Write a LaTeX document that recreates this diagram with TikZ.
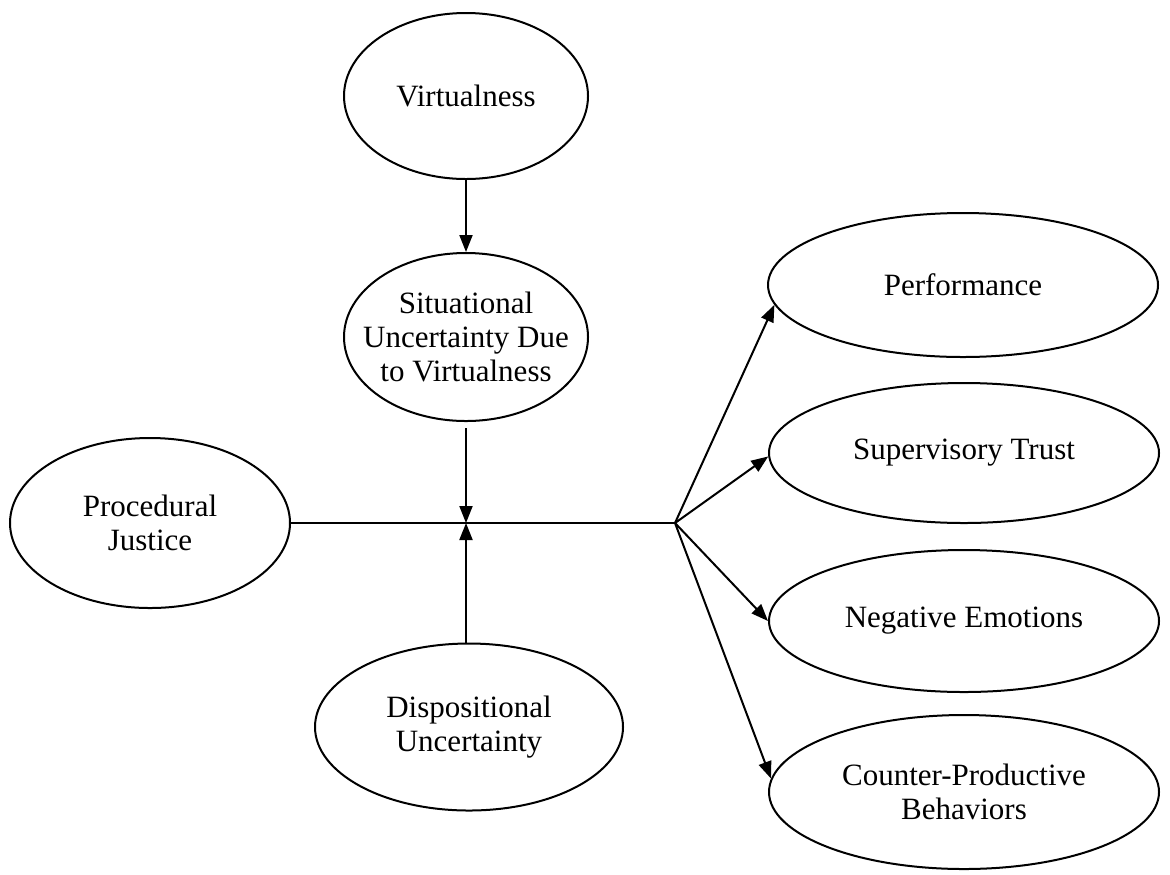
\documentclass[tikz,border=0pt]{standalone}
\usepackage{fontspec}
\setmainfont{Liberation Serif}
\usetikzlibrary{shapes.geometric,arrows.meta}
\begin{document}
\begin{tikzpicture}[x=0.5pt,y=-0.5pt,
  construct/.style={ellipse, draw, line width=1pt, inner sep=0pt,
    align=center, font=\fontsize{15.5}{17}\selectfont},
  link/.style={line width=1pt},
  path arrow/.style={link, -{Triangle[length=8.5pt,width=6.5pt]}}]
\useasboundingbox (0,0) rectangle (1170,874);

% constructs
\node[construct, minimum width=122pt, minimum height=83pt] (virt) at (466,96) {Virtualness};
\node[construct, inner xsep=-12pt, minimum width=122pt, minimum height=84pt] (sit) at (466,337) {Situational\\Uncertainty Due\\to Virtualness};
\node[construct, minimum width=140pt, minimum height=85pt] (proc) at (150,523) {Procedural\\Justice};
\node[construct, minimum width=154pt, minimum height=83.5pt] (disp) at (469,727) {Dispositional\\Uncertainty};
\node[construct, minimum width=195pt, minimum height=72pt] (perf) at (963,285) {Performance};
\node[construct, minimum width=195pt, minimum height=70pt] (trust) at (964,453) {Supervisory Trust};
\node[construct, minimum width=195pt, minimum height=71pt] (emo) at (964,621) {Negative Emotions};
\node[construct, minimum width=195pt, minimum height=77pt] (cpb) at (964,792) {Counter-Productive\\Behaviors};

% junction points
\coordinate (join) at (466,523);
\coordinate (fork) at (675,523);
\coordinate (sitdrop) at (466,428);

% paths
\draw[path arrow] (virt.south) -- (sit.north);
\draw[path arrow] (sitdrop) -- (join);
\draw[path arrow] (join |- disp.north) -- (join);
\draw[link] (proc.east) -- (fork);
\draw[path arrow] (fork) -- (perf.186);
\draw[path arrow] (fork) -- (trust.181);
\draw[path arrow] (fork) -- (emo.180);
\draw[path arrow] (fork) -- (cpb.176);
\end{tikzpicture}
\end{document}
